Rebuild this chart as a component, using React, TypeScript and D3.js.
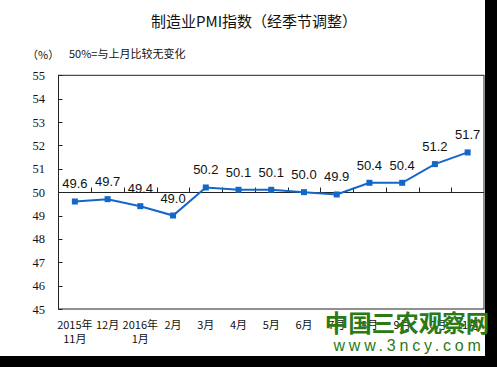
import React, { useEffect, useRef } from "react";
import * as d3 from "d3";

const months = ["2015年\n11月", "12月", "2016年\n1月", "2月", "3月", "4月", "5月", "6月", "7月", "8月", "9月", "10月", "11月"];
const pmi = [49.6, 49.7, 49.4, 49.0, 50.2, 50.1, 50.1, 50.0, 49.9, 50.4, 50.4, 51.2, 51.7];
const yTicks = [45, 46, 47, 48, 49, 50, 51, 52, 53, 54, 55];

const W = 497;
const H = 367;

const App: React.FC = () => {
  const svgRef = useRef<SVGSVGElement | null>(null);

  useEffect(() => {
    const left = 58.5;
    const right = 484;
    const top = 75.3;
    const bottom = 309;

    const x = d3.scaleBand<number>().domain(d3.range(months.length)).range([left, right]);
    const y = d3.scaleLinear().domain([45, 55]).range([bottom, top]);
    const cx = (i: number) => x(i)! + x.bandwidth() / 2;

    const svg = d3.select(svgRef.current);
    svg.selectAll("*").remove();

    svg.append("rect").attr("width", W).attr("height", H).attr("fill", "#fff");

    // title + notes
    svg.append("text").attr("x", 254).attr("y", 27).attr("text-anchor", "middle")
      .attr("font-family", "Noto Sans CJK SC").attr("font-size", 15).attr("fill", "#111")
      .text("制造业PMI指数（经季节调整）");
    svg.append("text").attr("x", 27).attr("y", 59)
      .attr("font-family", "Noto Sans CJK SC").attr("font-size", 11).attr("fill", "#111")
      .text("（%）");
    svg.append("text").attr("x", 69).attr("y", 58)
      .attr("font-family", "Noto Sans CJK SC").attr("font-size", 11).attr("fill", "#111")
      .text("50%=与上月比较无变化");

    // frame
    svg.append("rect").attr("x", left).attr("y", top).attr("width", right - left).attr("height", bottom - top)
      .attr("fill", "none").attr("stroke", "#222").attr("stroke-width", 1);

    // y ticks
    const yg = svg.append("g");
    yTicks.forEach((t) => {
      yg.append("line").attr("x1", left).attr("x2", left + 4).attr("y1", Math.round(y(t)) + 0.5).attr("y2", Math.round(y(t)) + 0.5)
        .attr("stroke", "#222");
      yg.append("text").attr("x", 45).attr("y", y(t) + 4.5).attr("text-anchor", "end")
        .attr("font-family", "Liberation Serif").attr("font-size", 12.5).attr("fill", "#111").text(t);
    });

    // x axis line at 50
    const y50 = Math.round(y(50)) + 0.5;
    svg.append("line").attr("x1", left).attr("x2", right).attr("y1", y50).attr("y2", y50).attr("stroke", "#222");
    d3.range(1, months.length).forEach((i) => {
      const tx = Math.round(x(i)!) + 0.5;
      svg.append("line").attr("x1", tx).attr("x2", tx).attr("y1", y50).attr("y2", y50 - 5).attr("stroke", "#222");
    });

    // x labels
    months.forEach((m, i) => {
      const lines = m.split("\n");
      lines.forEach((l, k) => {
        svg.append("text").attr("x", cx(i)).attr("y", 329 + k * 14).attr("text-anchor", "middle")
          .attr("font-family", "Noto Sans CJK SC").attr("font-size", 11).attr("fill", "#111").text(l);
      });
    });

    // line
    const line = d3.line<number>().x((_, i) => cx(i)).y((d) => y(d));
    svg.append("path").datum(pmi).attr("d", line).attr("fill", "none")
      .attr("stroke", "#1466c8").attr("stroke-width", 2);
    svg.append("g").selectAll("rect").data(pmi).join("rect")
      .attr("x", (_, i) => cx(i) - 3).attr("y", (d) => y(d) - 3)
      .attr("width", 6).attr("height", 6).attr("fill", "#1466c8");

    // data labels
    svg.append("g").selectAll("text").data(pmi).join("text")
      .attr("x", (_, i) => cx(i)).attr("y", (d) => y(d) - 13)
      .attr("text-anchor", "middle").attr("font-family", "Liberation Sans").attr("font-size", 13)
      .attr("fill", "#111").text((d) => d.toFixed(1));

    // dark border strips
    svg.append("rect").attr("x", 485).attr("y", 0).attr("width", W - 485).attr("height", H).attr("fill", "#000");
    svg.append("rect").attr("x", 0).attr("y", 356).attr("width", W).attr("height", H - 356).attr("fill", "#000");

    // watermark
    svg.append("text").attr("x", 407).attr("y", 332).attr("text-anchor", "middle")
      .attr("font-family", "Noto Sans CJK SC").attr("font-weight", "bold").attr("font-size", 23.5)
      .attr("fill", "#2a7a16").text("中国三农观察网");
    svg.append("text").attr("x", 409).attr("y", 351).attr("text-anchor", "middle")
      .attr("font-family", "Liberation Sans").attr("font-size", 16).attr("letter-spacing", 3.8)
      .attr("fill", "#2a7a16").text("www.3ncy.com");
  }, []);

  return (
    <svg ref={svgRef} width={W} height={H}
      style={{ position: "absolute", left: 0, top: 0, display: "block" }} />
  );
};

export default App;
